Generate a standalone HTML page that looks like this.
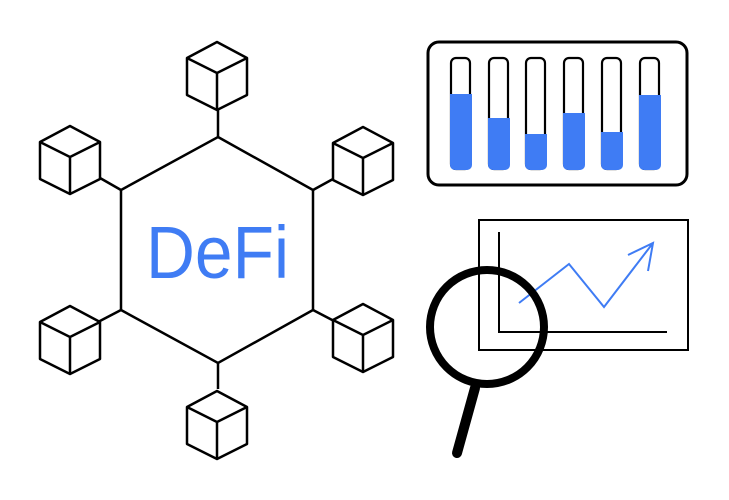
<!DOCTYPE html>
<html><head><style>html,body{margin:0;padding:0;background:#fff}svg{display:block}</style></head><body>
<svg width="729" height="500" viewBox="0 0 729 500" xmlns="http://www.w3.org/2000/svg">
<defs>
<g id="cube" fill="#fff" stroke="#000" stroke-width="2.5" stroke-linejoin="round">
<path d="M0,-31 L30,-15 L30,22 L0,37 L-30,22 L-30,-15 Z"/>
<path d="M-30,-15 L0,0 L30,-15 M0,0 L0,37" fill="none"/>
</g>
</defs>
<g stroke="#000" stroke-width="2.5" fill="none">
<path d="M218,137 L313,190 L313,310 L218,363 L121,310 L121,190 Z" fill="#fff"/>
<line x1="218" y1="110" x2="218" y2="137"/>
<line x1="218" y1="363" x2="218" y2="389"/>
<line x1="100" y1="178" x2="121" y2="190"/>
<line x1="313" y1="190" x2="333" y2="179"/>
<line x1="121" y1="310" x2="98" y2="322"/>
<line x1="313" y1="310" x2="336" y2="322"/>
</g>
<use href="#cube" x="217" y="73"/>
<use href="#cube" x="70" y="157"/>
<use href="#cube" x="363" y="158"/>
<use href="#cube" x="70" y="337"/>
<use href="#cube" x="363" y="335"/>
<use href="#cube" x="217" y="422"/>
<text x="146" y="278" font-family="Liberation Sans, sans-serif" font-size="74" fill="#3f7cf4" textLength="143" lengthAdjust="spacingAndGlyphs">DeFi</text>

<rect x="428" y="42" width="259" height="143" rx="11" fill="none" stroke="#000" stroke-width="3"/>
<g stroke="#000" stroke-width="2.2" fill="#fff">
<rect x="451" y="58" width="19" height="111" rx="5"/>
<rect x="489" y="58" width="19" height="111" rx="5"/>
<rect x="526" y="58" width="19" height="111" rx="5"/>
<rect x="564" y="58" width="19" height="111" rx="5"/>
<rect x="602" y="58" width="19" height="111" rx="5"/>
<rect x="640" y="58" width="19" height="111" rx="5"/>
</g>
<g fill="#3f7cf4">
<path d="M450,94 h22 v71 a5,5 0 0 1 -5,5 h-12 a5,5 0 0 1 -5,-5 Z"/>
<path d="M488,118 h22 v47 a5,5 0 0 1 -5,5 h-12 a5,5 0 0 1 -5,-5 Z"/>
<path d="M525,134 h22 v31 a5,5 0 0 1 -5,5 h-12 a5,5 0 0 1 -5,-5 Z"/>
<path d="M563,113 h22 v52 a5,5 0 0 1 -5,5 h-12 a5,5 0 0 1 -5,-5 Z"/>
<path d="M601,132 h22 v33 a5,5 0 0 1 -5,5 h-12 a5,5 0 0 1 -5,-5 Z"/>
<path d="M639,95 h22 v70 a5,5 0 0 1 -5,5 h-12 a5,5 0 0 1 -5,-5 Z"/>
</g>

<rect x="479" y="220" width="209" height="130" fill="none" stroke="#000" stroke-width="2"/>
<path d="M499,232 L499,332 L667,332" fill="none" stroke="#000" stroke-width="2"/>
<path d="M519,303 L569,264 L604,307 L653,243 M628,255 L653,243 L648,271" fill="none" stroke="#3f7cf4" stroke-width="2"/>

<line x1="475" y1="388" x2="457" y2="453" stroke="#000" stroke-width="10" stroke-linecap="round"/>
<circle cx="487" cy="327" r="57" fill="none" stroke="#000" stroke-width="8"/>
</svg>
</body></html>
